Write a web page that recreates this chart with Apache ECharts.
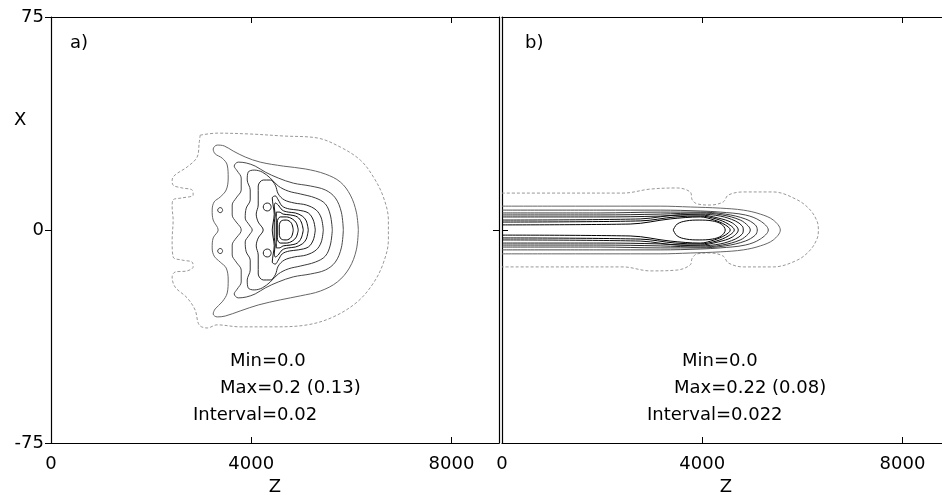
<!DOCTYPE html>
<html lang="en">
<head>
<meta charset="UTF-8">
<title>Contours a) b)</title>
<script src="https://cdn.jsdelivr.net/npm/echarts@6/dist/echarts.min.js"></script>
<style>
  html, body { margin: 0; padding: 0; background: #fff; overflow: hidden; }
  #main { width: 942px; height: 495px; }
</style>
</head>
<body>
<div id="main"></div>
<script>
// axes
var zMin = 0, zMax = 8950, zStep = 4000;   // Z ticks 0, 4000, 8000
var xMin = -75, xMax = 75, xStep = 75;     // X ticks -75, 0, 75

// panel a) contours, outer -> inner, [Z, X]
var a1 = [[2980,33.4],[3320,34.1],[3980,33.8],[4640,33.1],[5320,32.4],[5780,29.2],[6180,24.6],[6440,18.7],[6640,11.6],[6740,3.5],[6740,-3.5],[6640,-11.6],[6440,-18.7],[6120,-25.3],[5640,-30.6],[5120,-33.4],[4440,-34.1],[3780,-34.1],[3320,-33.4],[3120,-34.5],[2960,-33.4],[2880,-28.2],[2720,-23.9],[2480,-20.1],[2420,-16.5],[2480,-14.8],[2720,-14.4],[2840,-13.0],[2820,-11.3],[2620,-10.6],[2440,-9.5],[2420,-3.5],[2440,3.5],[2420,8.1],[2440,10.6],[2620,11.3],[2840,12.3],[2820,14.1],[2620,14.8],[2440,15.8],[2420,17.6],[2480,19.4],[2720,22.2],[2920,25.7],[2960,30.6],[2980,33.4]];
var a2 = [[6140,0],[6100,6.3],[5980,12.3],[5780,16.9],[5480,19.7],[5080,21.5],[4640,22.5],[4180,23.9],[3880,25.7],[3640,27.8],[3460,29.6],[3320,29.9],[3240,28.5],[3280,26.8],[3420,25.3],[3520,22.9],[3540,18.3],[3500,14.1],[3380,11.6],[3260,9.9],[3220,7.0],[3240,3.5],[3340,0],[3240,-2.8],[3220,-6.3],[3260,-9.2],[3380,-11.3],[3500,-13.4],[3540,-17.6],[3520,-22.2],[3420,-25.3],[3280,-27.8],[3240,-29.6],[3320,-30.6],[3480,-30.3],[3780,-28.5],[4140,-26.4],[4580,-24.6],[4980,-23.2],[5380,-21.5],[5720,-18.3],[5960,-13.4],[6100,-7.0],[6140,0]];
var a3 = [[5840,0],[5800,6.3],[5680,11.3],[5480,14.1],[5180,15.5],[4840,16.5],[4540,18.3],[4280,20.4],[4080,22.5],[3900,23.6],[3740,23.9],[3660,22.5],[3720,20.8],[3800,18.3],[3800,14.1],[3700,11.3],[3620,8.8],[3620,5.3],[3700,2.8],[3780,1.1],[3800,0],[3780,-1.1],[3700,-2.8],[3620,-5.3],[3620,-8.8],[3700,-11.3],[3800,-14.1],[3800,-18.3],[3720,-20.8],[3660,-22.5],[3740,-23.9],[3900,-23.6],[4080,-22.5],[4280,-20.4],[4540,-18.3],[4840,-16.5],[5180,-15.5],[5480,-14.1],[5680,-11.3],[5800,-6.3],[5840,0]];
var a4 = [[5620,0],[5580,5.3],[5480,9.2],[5280,11.3],[4980,12.7],[4740,13.7],[4540,15.5],[4380,18.3],[4220,20.4],[4060,21.1],[3940,20.4],[3920,17.6],[3980,14.1],[3980,10.6],[3900,7.7],[3880,4.2],[3960,1.8],[4020,0],[3960,-1.8],[3880,-4.2],[3900,-7.7],[3980,-10.6],[3980,-14.1],[3920,-17.6],[3940,-20.4],[4060,-21.1],[4220,-20.4],[4380,-18.3],[4540,-15.5],[4740,-13.7],[4980,-12.7],[5280,-11.3],[5480,-9.2],[5580,-5.3],[5620,0]];
var a5 = [[5440,0],[5400,4.2],[5300,7.0],[5100,8.8],[4860,9.5],[4660,10.6],[4540,12.7],[4480,15.8],[4380,17.6],[4240,17.6],[4140,15.5],[4140,12.3],[4140,8.8],[4100,5.6],[4140,2.8],[4240,0],[4140,-2.8],[4100,-5.6],[4140,-8.8],[4140,-12.3],[4140,-15.5],[4240,-17.6],[4380,-17.6],[4480,-15.8],[4540,-12.7],[4660,-10.6],[4860,-9.5],[5100,-8.8],[5300,-7.0],[5400,-4.2],[5440,0]];
var a6 = [[5280,0],[5240,3.5],[5140,6.0],[4940,7.0],[4760,7.4],[4620,8.4],[4540,10.6],[4480,12.0],[4420,11.3],[4440,8.4],[4460,5.6],[4440,2.8],[4420,0],[4440,-2.8],[4460,-5.6],[4440,-8.4],[4420,-11.3],[4480,-12.0],[4540,-10.6],[4620,-8.4],[4760,-7.4],[4940,-7.0],[5140,-6.0],[5240,-3.5],[5280,0]];
var a7 = [[5140,0],[5100,3.2],[5020,4.9],[4880,6.0],[4740,6.3],[4620,7.0],[4540,8.8],[4480,9.5],[4460,8.1],[4480,5.3],[4460,2.5],[4460,0],[4460,-2.5],[4480,-5.3],[4460,-8.1],[4480,-9.5],[4540,-8.8],[4620,-7.0],[4740,-6.3],[4880,-6.0],[5020,-4.9],[5100,-3.2],[5140,0]];
var a8 = [[5040,0],[5000,2.8],[4920,4.6],[4780,5.3],[4640,5.6],[4560,6.3],[4500,6.3],[4500,3.5],[4500,0],[4500,-3.5],[4500,-6.3],[4560,-6.3],[4640,-5.6],[4780,-5.3],[4920,-4.6],[5000,-2.8],[5040,0]];
var a9 = [[4940,0],[4900,2.5],[4820,3.9],[4700,4.6],[4580,4.6],[4520,2.8],[4520,0],[4520,-2.8],[4580,-4.6],[4700,-4.6],[4820,-3.9],[4900,-2.5],[4940,0]];
var a10 = [[4840,0],[4800,2.5],[4700,3.5],[4600,3.2],[4560,1.4],[4560,-1.4],[4600,-3.2],[4700,-3.5],[4800,-2.5],[4840,0]];
// small closed loops in a)
var aDot1 = [[3430,7.0],[3415,7.6],[3380,7.9],[3345,7.6],[3330,7.0],[3345,6.4],[3380,6.1],[3415,6.4],[3430,7.0]];
var aDot2 = [[3430,-7.4],[3415,-6.8],[3380,-6.5],[3345,-6.8],[3330,-7.4],[3345,-8.0],[3380,-8.3],[3415,-8.0],[3430,-7.4]];
var aLoop1 = [[4400,8.1],[4377,9.1],[4320,9.5],[4263,9.1],[4240,8.1],[4263,7.1],[4320,6.7],[4377,7.1],[4400,8.1]];
var aLoop2 = [[4400,-8.1],[4377,-7.1],[4320,-6.7],[4263,-7.1],[4240,-8.1],[4263,-9.1],[4320,-9.5],[4377,-9.1],[4400,-8.1]];

// panel b) contours, open at Z=0
var b1 = [[0,13.0],[1160,13.0],[2420,13.0],[2960,14.4],[3500,14.8],[3760,13.4],[3800,10.6],[3900,9.2],[4160,8.8],[4420,9.9],[4520,12.3],[4820,13.4],[5420,13.4],[5900,10.6],[6160,7.0],[6300,2.8],[6320,0],[6300,-2.8],[6160,-7.0],[5900,-10.6],[5420,-13.0],[4820,-13.0],[4520,-11.6],[4420,-9.2],[4160,-8.1],[3900,-8.4],[3800,-9.9],[3760,-12.3],[3500,-14.1],[2960,-14.4],[2420,-13.0],[1160,-13.0],[0,-13.0]];
var b2 = [[0,8.4],[1160,8.4],[2360,8.4],[3160,8.4],[3760,8.1],[4360,7.7],[4820,7.0],[5160,5.6],[5420,3.5],[5560,0],[5420,-3.5],[5160,-5.6],[4820,-7.0],[4360,-7.7],[3760,-8.1],[3160,-8.4],[2360,-8.4],[1160,-8.4],[0,-8.4]];
var b3 = [[0,7.0],[1960,7.0],[3160,7.0],[3960,6.7],[4360,6.3],[4860,5.3],[5160,3.2],[5320,0],[5160,-3.2],[4860,-5.3],[4360,-6.3],[3960,-6.7],[3160,-7.0],[1960,-7.0],[0,-7.0]];
var b4 = [[0,6.0],[1960,6.0],[3160,6.3],[3960,6.3],[4460,5.6],[4860,3.9],[5060,1.8],[5100,0],[5060,-1.8],[4860,-3.9],[4460,-5.6],[3960,-6.3],[3160,-6.3],[1960,-6.0],[0,-6.0]];
var b5 = [[0,5.3],[1960,5.3],[3160,5.6],[3960,6.0],[4400,5.3],[4760,3.5],[4920,1.4],[4960,0],[4920,-1.4],[4760,-3.5],[4400,-5.3],[3960,-6.0],[3160,-5.6],[1960,-5.3],[0,-5.3]];
var b6 = [[0,4.6],[1960,4.6],[3160,4.9],[3960,5.6],[4360,4.9],[4660,3.2],[4800,1.4],[4820,0],[4800,-1.4],[4660,-3.2],[4360,-4.9],[3960,-5.6],[3160,-4.9],[1960,-4.6],[0,-4.6]];
var b7 = [[0,3.5],[2760,3.9],[3560,5.3],[3960,5.3],[4320,4.2],[4600,2.5],[4720,0],[4600,-2.5],[4320,-4.2],[3960,-5.3],[3560,-5.3],[2760,-3.9],[0,-3.5]];
var b8 = [[0,2.8],[2760,3.2],[3460,4.6],[3960,4.9],[4280,3.9],[4520,2.1],[4640,0],[4520,-2.1],[4280,-3.9],[3960,-4.9],[3460,-4.6],[2760,-3.2],[0,-2.8]];
var b9 = [[0,1.8],[2560,2.1],[3360,3.9],[3960,4.6],[4240,3.5],[4460,1.8],[4560,0],[4460,-1.8],[4240,-3.5],[3960,-4.6],[3360,-3.9],[2560,-2.1],[0,-1.8]];
var bCore = [[3420,0],[3500,2.1],[3680,3.2],[3940,3.5],[4200,3.2],[4380,2.1],[4460,0],[4380,-2.1],[4200,-3.2],[3940,-3.5],[3680,-3.2],[3500,-2.1],[3420,0]];

var contoursA = [a1, a2, a3, a4, a5, a6, a7, a8, a9, a10, aDot1, aDot2, aLoop1, aLoop2];
var contoursB = [b1, b2, b3, b4, b5, b6, b7, b8, b9, bCore];
var greys = ['#999', '#666', '#4a4a4a', '#3a3a3a', '#2a2a2a', '#1a1a1a', '#111', '#000', '#000', '#000', '#333', '#333', '#222', '#222'];

var labelsA = ['Min=0.0', 'Max=0.2 (0.13)', 'Interval=0.02'];
var labelsB = ['Min=0.0', 'Max=0.22 (0.08)', 'Interval=0.022'];

var FONT = 'DejaVu Sans';
var myChart = echarts.init(document.getElementById('main'), null, { renderer: 'canvas', width: 942, height: 495 });

function mkSeries(list, axisIdx) {
    return list.map(function (pts, i) {
        return {
            type: 'line',
            xAxisIndex: axisIdx,
            yAxisIndex: axisIdx,
            data: pts,
            showSymbol: false,
            smooth: 0.35,
            silent: true,
            lineStyle: {
                color: greys[i],
                width: 1,
                type: i === 0 ? [3, 2] : 'solid'
            }
        };
    });
}

function xAx(grid, pos, showLab, name) {
    return {
        type: 'value', gridIndex: grid, position: pos,
        min: zMin, max: zMax, interval: zStep,
        splitLine: { show: false },
        axisLine: { show: true, onZero: false, lineStyle: { color: '#000', width: 1.2 } },
        axisTick: { show: true, inside: true, length: 6, lineStyle: { color: '#000' } },
        axisLabel: {
            show: showLab, color: '#000', fontSize: 18, fontFamily: FONT, margin: 12,
            showMaxLabel: false,
            formatter: function (v) { return String(v); }
        },
        name: name || '', nameLocation: 'middle', nameGap: 34,
        nameTextStyle: { color: '#000', fontSize: 18, fontFamily: FONT }
    };
}
function yAx(grid, pos, showLab, inside) {
    return {
        type: 'value', gridIndex: grid, position: pos,
        min: xMin, max: xMax, interval: xStep,
        splitLine: { show: false },
        axisLine: { show: true, onZero: false, lineStyle: { color: '#000', width: 1.2 } },
        axisTick: { show: true, inside: inside, length: 6, lineStyle: { color: '#000' } },
        axisLabel: {
            show: showLab, color: '#000', fontSize: 18, fontFamily: FONT, margin: 7,
            formatter: function (v) { return String(v); }
        }
    };
}

function txt(s, left, cy) {
    return { type: 'text', left: left, top: cy - 11, silent: true,
        style: { text: s, fill: '#000', font: '18px "' + FONT + '"' } };
}

var option = {
    animation: false,
    backgroundColor: '#fff',
    grid: [
        { left: 51, top: 17, width: 448, height: 426, outerBoundsMode: 'none', containLabel: false },
        { left: 502, top: 17, width: 448, height: 426, outerBoundsMode: 'none', containLabel: false }
    ],
    xAxis: [
        xAx(0, 'bottom', true, 'Z'), xAx(0, 'top', false),
        xAx(1, 'bottom', true, 'Z'), xAx(1, 'top', false)
    ],
    yAxis: [
        yAx(0, 'left', true, false), yAx(0, 'right', false, true),
        yAx(1, 'left', false, true), yAx(1, 'right', false, true)
    ],
    graphic: [
        txt('X', 14, 122),
        txt('a)', 70, 45),
        txt('b)', 525, 45),
        txt(labelsA[0], 230, 363), txt(labelsA[1], 220, 390), txt(labelsA[2], 193, 417),
        txt(labelsB[0], 682, 363), txt(labelsB[1], 674, 390), txt(labelsB[2], 647, 417)
    ],
    series: mkSeries(contoursA, 0).concat(mkSeries(contoursB, 2))
};

myChart.setOption(option);
</script>
</body>
</html>
